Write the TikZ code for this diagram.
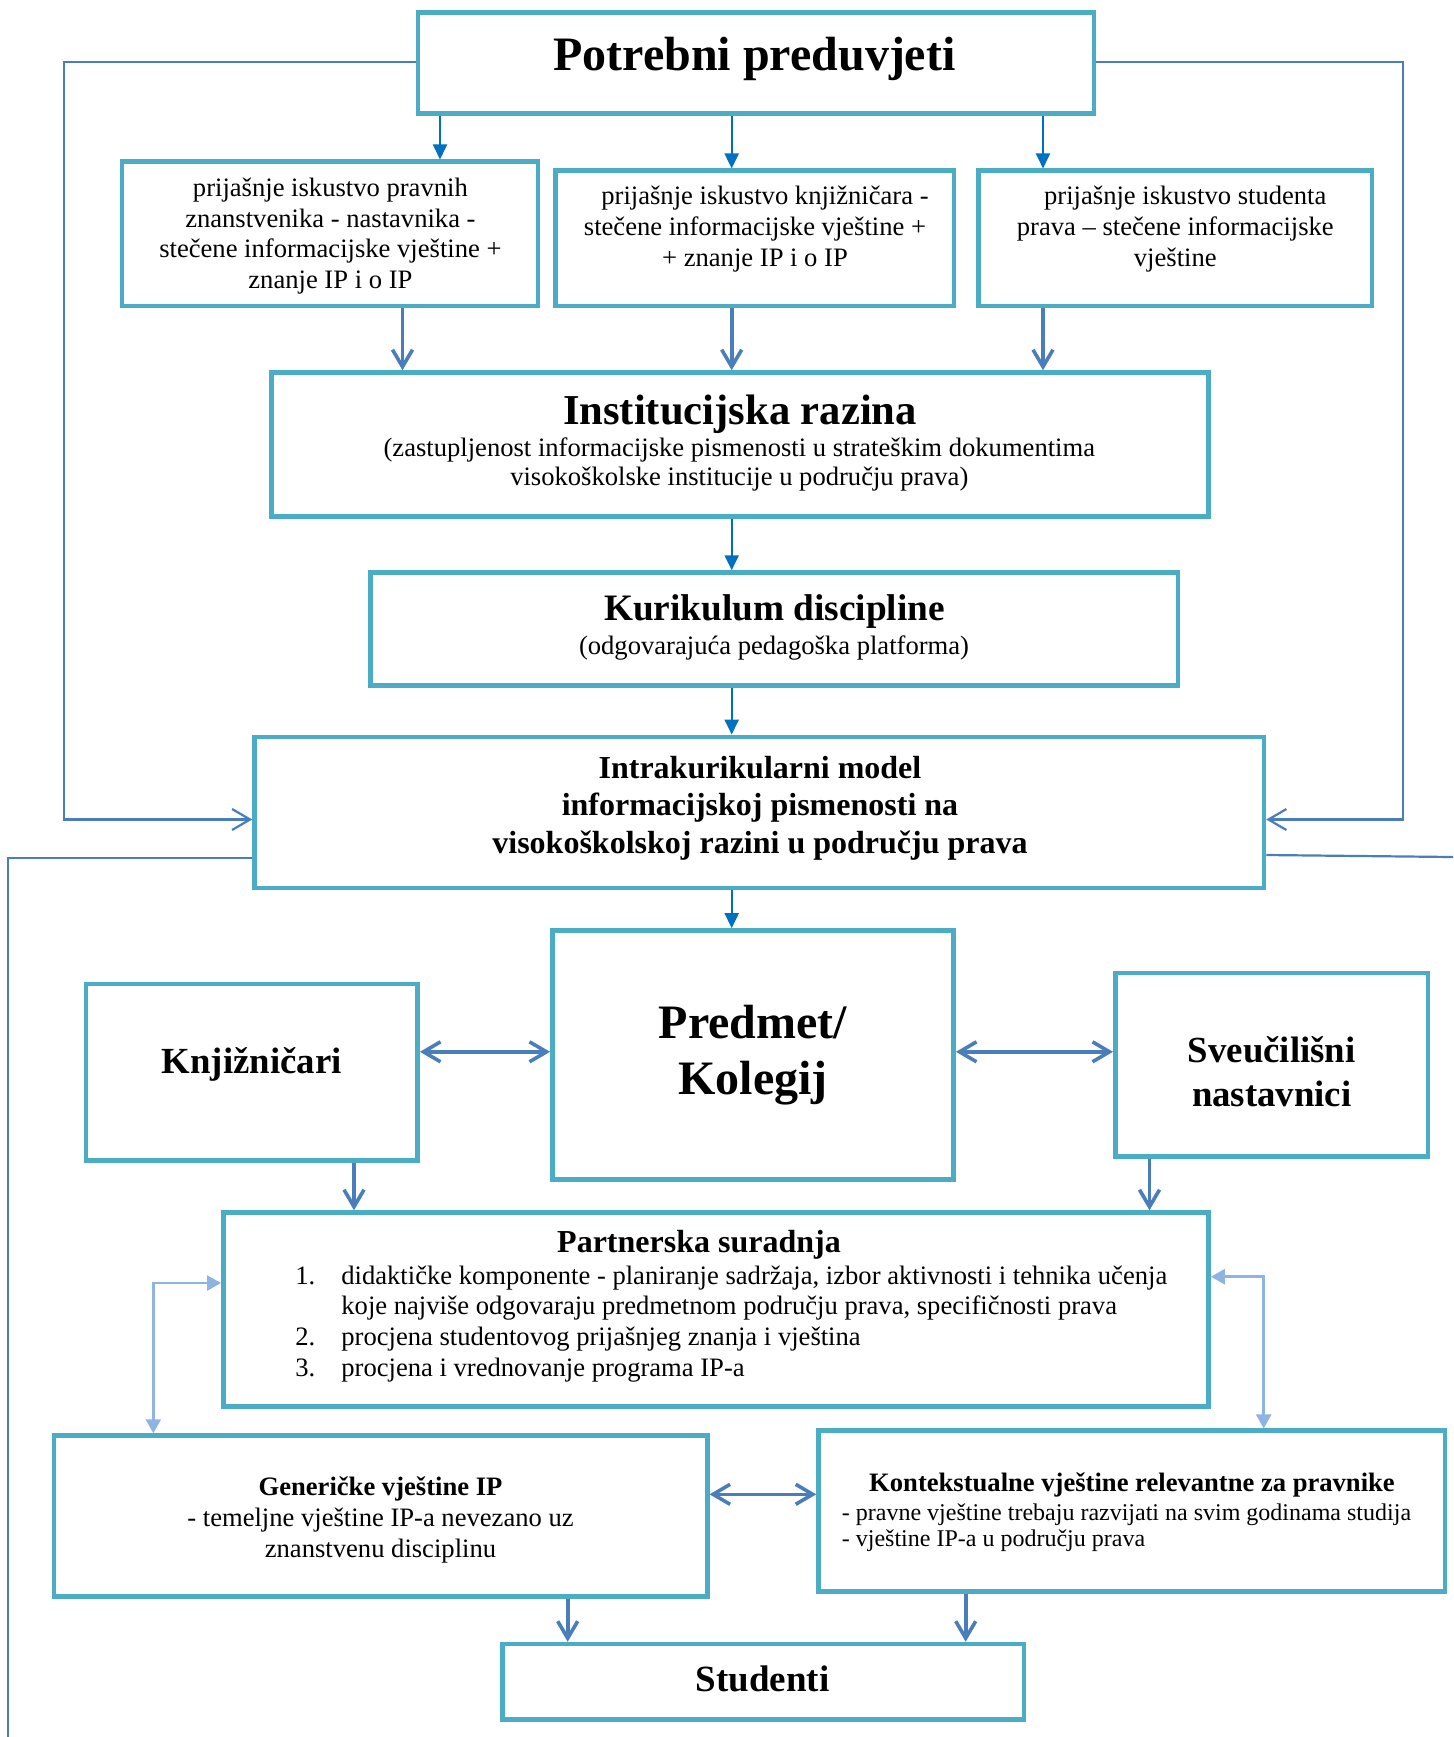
\documentclass[tikz,border=0pt]{standalone}
\usepackage{fontspec}
\setmainfont{Liberation Serif}
\usetikzlibrary{arrows.meta}
\definecolor{boxc}{HTML}{4BACC6}
\definecolor{darkc}{HTML}{0070C0}
\definecolor{midc}{HTML}{4A7EBB}
\definecolor{lightc}{HTML}{8EB4E3}
\newcommand{\fsz}[2]{\fontsize{#1}{#2}\selectfont}
\newcommand{\txc}[1]{\begin{tabular}[t]{@{}c@{}}#1\end{tabular}}
\newcommand{\txl}[1]{\begin{tabular}[t]{@{}l@{}}#1\end{tabular}}
\begin{document}
\begin{tikzpicture}[x=0.5pt,y=-0.5pt,
  box/.style={draw=boxc, line width=2.25pt, fill=white, inner sep=0pt},
  txt/.style={inner sep=0pt, anchor=base},
  darr/.style={draw=darkc, line width=1.1pt, -{Triangle[length=7.5pt,width=7pt]}},
  oarr/.style={draw=midc, line width=1.8pt, -{Straight Barb[length=8.5pt,width=10pt]}},
  oarrd/.style={draw=midc, line width=1.8pt, {Straight Barb[length=8.5pt,width=10pt]}-{Straight Barb[length=8.5pt,width=10pt]}},
  larr/.style={draw=lightc, line width=1.3pt, {Triangle[length=7pt,width=7.5pt]}-{Triangle[length=7pt,width=7.5pt]}},
  farr/.style={draw=midc, line width=1.1pt, -{Straight Barb[length=9pt,width=10.5pt]}},
  fline/.style={draw=midc, line width=1.1pt}]
\useasboundingbox (0,0) rectangle (1453,1737);

% boxes
\node[box, minimum width=338pt, minimum height=50.5pt] (pot) at (756,62.8) {};
\node[box, minimum width=208.1pt, minimum height=72.15pt] (A) at (329.9,233.85) {};
\node[box, minimum width=199.15pt, minimum height=67.65pt] (B) at (754.65,238.35) {};
\node[box, minimum width=196.75pt, minimum height=67.65pt] (C) at (1175.25,238.35) {};
\node[box, minimum width=468.5pt, minimum height=71.95pt] (inst) at (740.2,444.45) {};
\node[box, minimum width=403.85pt, minimum height=56.6pt] (kur) at (774.15,629.1) {};
\node[box, minimum width=504.75pt, minimum height=75.7pt] (intra) at (759.25,812.5) {};
\node[box, minimum width=200.7pt, minimum height=124.6pt] (pred) at (753,1055) {};
\node[box, minimum width=165.85pt, minimum height=88.35pt] (knj) at (251.85,1072.35) {};
\node[box, minimum width=156.35pt, minimum height=91.6pt] (sve) at (1271.65,1064.8) {};
\node[box, minimum width=492.65pt, minimum height=97pt] (part) at (715.95,1309.5) {};
\node[box, minimum width=326.65pt, minimum height=80.6pt] (gen) at (380.65,1516.1) {};
\node[box, minimum width=313.25pt, minimum height=80.5pt] (kont) at (1131.75,1511.2) {};
\node[box, minimum width=260.65pt, minimum height=37.75pt] (stud) at (763.35,1681.75) {};

% texts
\node[txt, font=\fsz{24}{27.6}\bfseries] (potT) at (754.5,70) {Potrebni preduvjeti};
\node[txt, font=\fsz{13.3}{15.3}] (AT) at (330.4,196.7) {\txc{prijašnje iskustvo pravnih\\ znanstvenika - nastavnika -\\ stečene informacijske vještine +\\ znanje IP i o IP}};
\node[txt, font=\fsz{13.3}{15.4}] (BT) at (755,204.5) {\txc{\hspace*{10pt}prijašnje iskustvo knjižničara -\\ stečene informacijske vještine +\\ + znanje IP i o IP}};
\node[txt, font=\fsz{13.3}{15.4}] (CT) at (1175.3,204.5) {\txc{\hspace*{10pt}prijašnje iskustvo studenta\\ prava – stečene informacijske\\ vještine}};
\node[txt, font=\fsz{21.3}{24}\bfseries] (instH) at (740,424.5) {Institucijska razina};
\node[txt, font=\fsz{13.3}{14.8}] (instS) at (739.3,456) {\txc{(zastupljenost informacijske pismenosti u strateškim dokumentima\\ visokoškolske institucije u području prava)}};
\node[txt, font=\fsz{18.65}{21}\bfseries] (kurH) at (774.5,620.4) {Kurikulum discipline};
\node[txt, font=\fsz{13.3}{15}] (kurS) at (774,654) {(odgovarajuća pedagoška platforma)};
\node[txt, font=\fsz{16}{18.65}\bfseries] (intraT) at (760,778.6) {\txc{Intrakurikularni model\\ informacijskoj pismenosti na\\ visokoškolskoj razini u području prava}};
\node[txt, font=\fsz{24}{27.7}\bfseries] (predT) at (753,1038.6) {\txc{Predmet/\\ Kolegij}};
\node[txt, font=\fsz{18.4}{21}\bfseries] (knjT) at (251.7,1073) {Knjižničari};
\node[txt, font=\fsz{18.4}{22}\bfseries] (sveT) at (1271.8,1062.5) {\txc{Sveučilišni\\ nastavnici}};
\node[txt, font=\fsz{16}{18}\bfseries] (partH) at (699,1252.5) {Partnerska suradnja};
\node[inner sep=0pt, anchor=base west, font=\fsz{13.3}{15.35}] (partL) at (295,1284) {\txl{\makebox[23pt][l]{1.}didaktičke komponente - planiranje sadržaja, izbor aktivnosti i tehnika učenja\\ \hspace*{23pt}koje najviše odgovaraju predmetnom području prava, specifičnosti prava\\ \makebox[23pt][l]{2.}procjena studentovog prijašnjeg znanja i vještina\\ \makebox[23pt][l]{3.}procjena i vrednovanje programa IP-a}};
\node[txt, font=\fsz{13.3}{15.6}] (genT) at (380.5,1495) {\txc{\textbf{Generičke vještine IP}\\ - temeljne vještine IP-a nevezano uz\\ znanstvenu disciplinu}};
\node[txt, font=\fsz{13.3}{15}\bfseries] (kontH) at (1132,1491.5) {Kontekstualne vještine relevantne za pravnike};
\node[inner sep=0pt, anchor=base west, font=\fsz{12}{13.4}] (kontS) at (841.5,1520) {\txl{- pravne vještine trebaju razvijati na svim godinama studija\\ - vještine IP-a u području prava}};
\node[txt, font=\fsz{18.5}{21}\bfseries] (studT) at (762.75,1691.7) {Studenti};

% helper coordinates
\coordinate (xa) at (440,0);
\coordinate (xb) at (731.7,0);
\coordinate (xc) at (1043,0);
\coordinate (xd) at (402.5,0);
\coordinate (xk) at (354,0);
\coordinate (xs) at (1149.5,0);
\coordinate (xl) at (153.3,0);
\coordinate (xr) at (1263.7,0);
\coordinate (xg) at (567.7,0);
\coordinate (xh) at (965.7,0);
\coordinate (xfl) at (63.7,0);
\coordinate (xfr) at (1403,0);
\coordinate (ym) at (0,1051.8);
\coordinate (yl) at (0,1283);
\coordinate (yr) at (0,1276.7);
\coordinate (yg) at (0,1494.3);
\coordinate (yt) at (0,61.7);
\coordinate (yf) at (0,819.5);
\coordinate (ybl) at (0,858);
\coordinate (ybr) at (0,855);
\coordinate (endL) at (8,1737);
\coordinate (endR) at (1453,857);

% connectors
\draw[darr] (pot.south -| xa) -- (A.north -| xa);
\draw[darr] (pot.south -| xb) -- (B.north -| xb);
\draw[darr] (pot.south -| xc) -- (C.north -| xc);
\draw[oarr] (A.south -| xd) -- (inst.north -| xd);
\draw[oarr] (B.south -| xb) -- (inst.north -| xb);
\draw[oarr] (C.south -| xc) -- (inst.north -| xc);
\draw[darr] (inst.south -| xb) -- (kur.north -| xb);
\draw[darr] (kur.south -| xb) -- (intra.north -| xb);
\draw[darr] (intra.south -| xb) -- (pred.north -| xb);
\draw[oarrd] (knj.east |- ym) -- (pred.west |- ym);
\draw[oarrd] (pred.east |- ym) -- (sve.west |- ym);
\draw[oarr] (knj.south -| xk) -- (part.north -| xk);
\draw[oarr] (sve.south -| xs) -- (part.north -| xs);
\draw[larr] (part.west |- yl) -| (gen.north -| xl);
\draw[larr] (part.east |- yr) -| (kont.north -| xr);
\draw[oarrd] (gen.east |- yg) -- (kont.west |- yg);
\draw[oarr] (gen.south -| xg) -- (stud.north -| xg);
\draw[oarr] (kont.south -| xh) -- (stud.north -| xh);
\draw[farr] (pot.west |- yt) -| (xfl |- yf) -- (intra.west |- yf);
\draw[farr] (pot.east |- yt) -| (xfr |- yf) -- (intra.east |- yf);
\draw[fline] (intra.west |- ybl) -| (endL);
\draw[fline] (intra.east |- ybr) -- (endR);
\end{tikzpicture}
\end{document}
